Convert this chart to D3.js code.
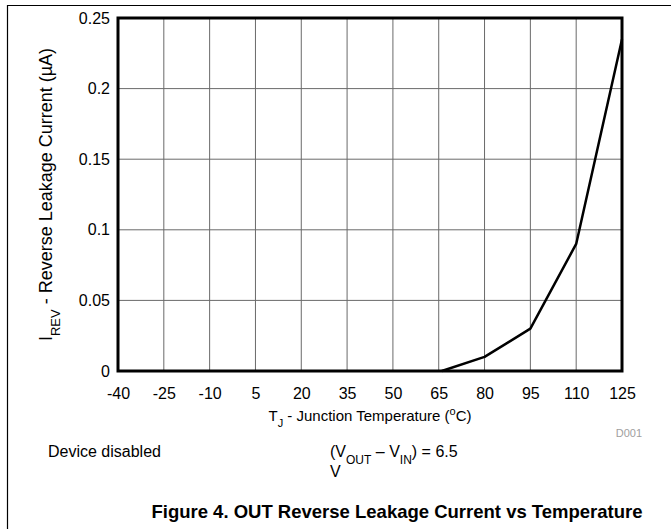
<!DOCTYPE html>
<html>
<head>
<meta charset="utf-8">
<title>OUT Reverse Leakage Current vs Temperature</title>
<style>
  body { margin: 0; background: #fff; }
  text { font-family: "Liberation Sans", Arial, sans-serif; fill: #000; }
  .tick text { font-size: 16px; }
  .grid line { stroke: #6a6a6a; stroke-width: 1; }
</style>
</head>
<body>
<script src="https://d3js.org/d3.v7.min.js"></script>
<script>
// data
var tempTicks = [-40, -25, -10, 5, 20, 35, 50, 65, 80, 95, 110, 125];
var currentTicks = [0, 0.05, 0.1, 0.15, 0.2, 0.25];
var tempC = [66, 80, 95, 110, 125];
var leakageUA = [0, 0.01, 0.03, 0.09, 0.235];

var W = 671, H = 529;
var margin = {top: 18, right: 49, bottom: 158, left: 118},
    width = W - margin.left - margin.right,
    height = H - margin.top - margin.bottom;

var svg = d3.select("body").append("svg")
    .attr("width", W)
    .attr("height", H);

// page frame, top and left rules only
svg.append("line").attr("x1", 7).attr("x2", W).attr("y1", 5.5).attr("y2", 5.5)
    .attr("stroke", "#000").attr("stroke-width", 1.2);
svg.append("line").attr("x1", 7.5).attr("x2", 7.5).attr("y1", 5).attr("y2", H)
    .attr("stroke", "#000").attr("stroke-width", 1.2);

var chart = svg.append("g")
    .attr("transform", "translate(" + margin.left + "," + margin.top + ")");

var x = d3.scaleLinear().domain([-40, 125]).range([0, width]);
var y = d3.scaleLinear().domain([0, 0.25]).range([height, 0]);

// grid
var grid = chart.append("g").attr("class", "grid");
grid.selectAll(".vg").data(tempTicks).enter().append("line")
    .attr("x1", function(d){ return x(d); }).attr("x2", function(d){ return x(d); })
    .attr("y1", 0).attr("y2", height);
grid.selectAll(".hg").data(currentTicks).enter().append("line")
    .attr("x1", 0).attr("x2", width)
    .attr("y1", function(d){ return y(d); }).attr("y2", function(d){ return y(d); });

// axes (plain hyphen for negatives, like the datasheet)
var xAxis = chart.append("g")
    .attr("transform", "translate(0," + height + ")")
    .call(d3.axisBottom(x).tickValues(tempTicks).tickSize(0).tickPadding(17)
        .tickFormat(function(d){ return String(d); }));
xAxis.select(".domain").remove();

var yAxis = chart.append("g")
    .call(d3.axisLeft(y).tickValues(currentTicks).tickSize(0).tickPadding(8)
        .tickFormat(function(d){ return String(+d.toFixed(2)); }));
yAxis.select(".domain").remove();
chart.selectAll(".tick text").attr("fill", "#000");

// plot frame
chart.append("rect")
    .attr("x", 0).attr("y", 0).attr("width", width).attr("height", height)
    .attr("fill", "none").attr("stroke", "#000").attr("stroke-width", 3);

// curve
var line = d3.line()
    .x(function(d, i){ return x(tempC[i]); })
    .y(function(d){ return y(d); });
chart.append("path")
    .datum(leakageUA)
    .attr("d", line)
    .attr("fill", "none")
    .attr("stroke", "#000")
    .attr("stroke-width", 2.5)
    .attr("stroke-linejoin", "round");

// y title
var yt = svg.append("text")
    .attr("transform", "translate(52," + (margin.top + height / 2) + ") rotate(-90)")
    .attr("text-anchor", "middle")
    .style("font-size", "18px");
yt.append("tspan").text("I");
yt.append("tspan").attr("baseline-shift", "sub").style("font-size", "13px").text("REV");
yt.append("tspan").text(" - Reverse Leakage Current (µA)");

// x title
var xt = svg.append("text")
    .attr("x", margin.left + width / 2).attr("y", 421)
    .attr("text-anchor", "middle")
    .style("font-size", "15px");
xt.append("tspan").text("T");
xt.append("tspan").attr("baseline-shift", "sub").style("font-size", "11px").text("J");
xt.append("tspan").text(" - Junction Temperature (");
xt.append("tspan").attr("baseline-shift", "super").style("font-size", "11px").text("o");
xt.append("tspan").text("C)");

svg.append("text")
    .attr("x", 642).attr("y", 437)
    .attr("text-anchor", "end")
    .style("font-size", "11px")
    .style("fill", "#a0a0a0")
    .text("D001");

// conditions
svg.append("text")
    .attr("x", 48).attr("y", 457)
    .style("font-size", "16px")
    .text("Device disabled");

var cond = svg.append("text")
    .attr("x", 330).attr("y", 457)
    .style("font-size", "16px");
cond.append("tspan").text("(V");
cond.append("tspan").attr("baseline-shift", "sub").style("font-size", "12px").text("OUT");
cond.append("tspan").text(" \u2013 V");
cond.append("tspan").attr("baseline-shift", "sub").style("font-size", "12px").text("IN");
cond.append("tspan").text(") = 6.5");
svg.append("text")
    .attr("x", 330).attr("y", 477)
    .style("font-size", "16px")
    .text("V");

// caption
svg.append("text")
    .attr("x", 397).attr("y", 518)
    .attr("text-anchor", "middle")
    .style("font-size", "18.5px")
    .style("font-weight", "bold")
    .text("Figure 4. OUT Reverse Leakage Current vs Temperature");
</script>
</body>
</html>
